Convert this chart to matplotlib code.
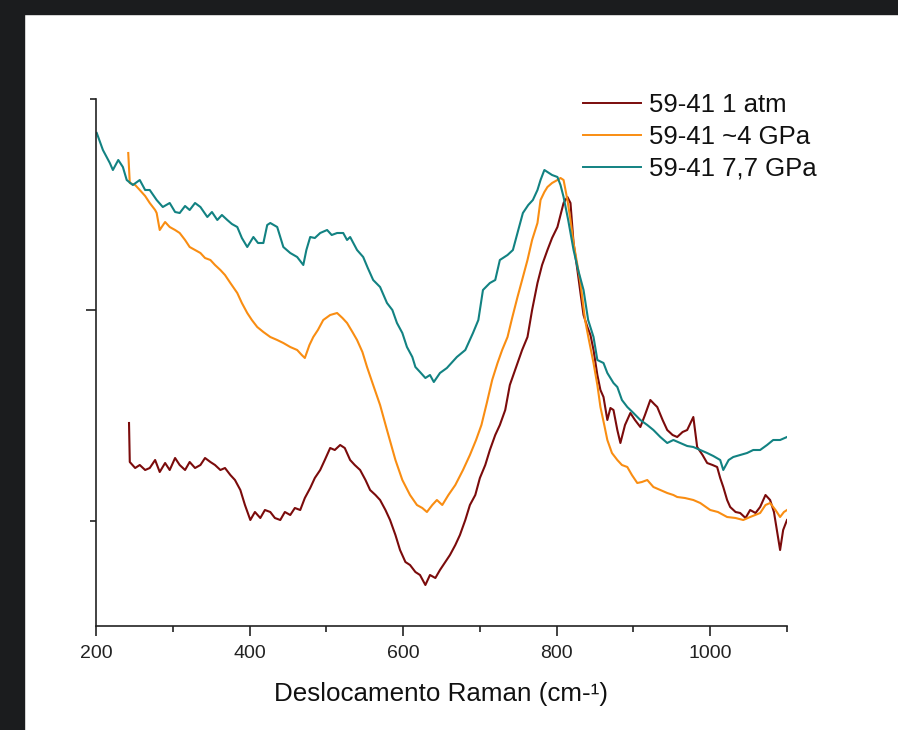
import matplotlib
matplotlib.use("Agg")
import matplotlib.pyplot as plt
from matplotlib.patches import Rectangle
from matplotlib.ticker import FixedLocator

# ---- data (Raman shift in cm-1, intensity in arbitrary units) ----
x_77 = [201, 209, 218, 222, 229, 235, 240, 248, 257, 264, 270, 279, 287, 296, 303, 309, 316, 322, 329, 336,
        345, 351, 358, 364, 371, 377, 384, 390, 397, 405, 411, 418, 423, 427, 436, 444, 453, 462, 470, 474,
        479, 485, 492, 501, 507, 514, 522, 527, 531, 540, 548, 554, 561, 570, 579, 586, 592, 599, 605, 612,
        616, 622, 629, 635, 640, 648, 657, 670, 681, 691, 698, 704, 713, 720, 726, 736, 743, 750, 756, 763,
        769, 775, 779, 784, 788, 794, 801, 805, 809, 815, 822, 828, 835, 841, 848, 853, 861, 866, 874, 879,
        885, 892, 900, 909, 918, 926, 935, 944, 952, 961, 970, 978, 987, 996, 1004, 1013, 1017, 1024, 1030, 1039,
        1048, 1056, 1065, 1074, 1082, 1091, 1100]
y_77 = [493, 476, 463, 456, 466, 459, 446, 441, 446, 436, 436, 426, 419, 423, 414, 413, 420, 416, 423, 419,
        409, 414, 406, 411, 406, 402, 399, 388, 379, 389, 383, 383, 401, 403, 399, 379, 373, 369, 361, 376,
        389, 388, 393, 396, 391, 393, 393, 386, 389, 376, 369, 358, 346, 339, 323, 316, 303, 293, 279, 269,
        259, 254, 248, 251, 244, 253, 258, 269, 276, 293, 306, 336, 343, 346, 366, 371, 376, 396, 413, 421,
        426, 436, 446, 456, 454, 451, 449, 441, 429, 406, 376, 356, 336, 306, 289, 266, 263, 253, 243, 239,
        226, 219, 213, 206, 201, 196, 189, 183, 186, 183, 180, 179, 176, 173, 170, 166, 156, 166, 169, 171,
        173, 176, 176, 181, 186, 186, 189]

x_4 = [242, 244, 251, 257, 264, 270, 277, 279, 283, 290, 296, 303, 309, 316, 322, 329, 336, 342, 349, 355,
       362, 368, 375, 384, 390, 397, 403, 410, 418, 427, 436, 444, 453, 462, 468, 472, 478, 483, 489, 496,
       505, 514, 521, 527, 534, 540, 547, 553, 561, 570, 579, 590, 599, 609, 618, 625, 631, 638, 644, 651,
       659, 668, 678, 687, 695, 702, 709, 716, 723, 729, 736, 742, 749, 755, 762, 768, 775, 779, 784, 788,
       794, 801, 805, 809, 814, 818, 822, 827, 831, 837, 842, 848, 853, 857, 862, 866, 872, 879, 885, 892,
       898, 905, 911, 918, 926, 935, 944, 952, 957, 967, 978, 987, 1000, 1010, 1022, 1033, 1043, 1052, 1065, 1072,
       1078, 1085, 1091, 1096, 1100]
y_4 = [473, 443, 441, 436, 430, 423, 416, 413, 396, 404, 399, 396, 393, 386, 379, 376, 373, 368, 366, 361,
       356, 351, 343, 333, 323, 313, 306, 299, 294, 289, 286, 283, 279, 276, 271, 268, 281, 289, 296, 306,
       311, 313, 308, 303, 294, 286, 274, 259, 241, 221, 196, 166, 146, 131, 121, 118, 114, 121, 126, 121,
       131, 141, 156, 171, 186, 201, 223, 246, 263, 276, 289, 308, 329, 346, 366, 386, 403, 426, 434, 439,
       443, 446, 448, 446, 426, 406, 383, 361, 343, 306, 286, 263, 241, 219, 201, 186, 173, 166, 161, 159,
       151, 143, 144, 146, 139, 136, 133, 131, 129, 128, 126, 123, 116, 114, 109, 108, 106, 109, 113, 121,
       123, 116, 109, 114, 116]

x_1 = [243, 244, 251, 257, 264, 270, 277, 283, 290, 296, 303, 309, 316, 322, 329, 336, 342, 349, 355, 362,
       368, 375, 381, 388, 394, 401, 407, 414, 420, 427, 433, 440, 446, 453, 459, 466, 472, 479, 485, 492,
       498, 505, 511, 518, 524, 531, 537, 544, 551, 557, 564, 570, 577, 583, 590, 596, 603, 609, 616, 622,
       629, 635, 642, 648, 655, 661, 668, 674, 681, 687, 694, 700, 707, 713, 720, 726, 733, 739, 749, 755,
       762, 768, 775, 781, 788, 794, 801, 805, 809, 814, 818, 822, 827, 831, 835, 840, 844, 848, 853, 857,
       861, 866, 870, 874, 879, 883, 889, 896, 902, 909, 915, 922, 927, 931, 938, 944, 951, 957, 964, 970,
       978, 983, 990, 996, 1003, 1009, 1013, 1017, 1022, 1026, 1033, 1039, 1046, 1052, 1059, 1065, 1072, 1078, 1083, 1089,
       1091, 1095, 1100]
y_1 = [203, 164, 158, 161, 156, 158, 166, 154, 163, 156, 168, 161, 156, 164, 158, 161, 168, 164, 161, 156,
       158, 151, 146, 136, 121, 106, 114, 108, 116, 114, 108, 106, 114, 111, 118, 116, 128, 138, 148, 156,
       166, 178, 176, 181, 178, 166, 161, 156, 146, 136, 131, 126, 116, 106, 91, 76, 64, 61, 54, 51,
       41, 51, 48, 56, 64, 71, 81, 91, 106, 121, 131, 148, 161, 176, 191, 201, 216, 241, 263, 276,
       289, 316, 343, 361, 376, 388, 399, 411, 423, 429, 423, 383, 356, 333, 311, 299, 291, 276, 251, 236,
       229, 206, 218, 216, 196, 183, 201, 213, 206, 199, 211, 226, 222, 219, 206, 196, 191, 189, 194, 196,
       209, 179, 171, 163, 161, 159, 148, 139, 126, 119, 114, 113, 108, 116, 113, 119, 131, 126, 114, 86,
       76, 96, 106]

labels = ["59-41 1 atm", "59-41 ~4 GPa", "59-41 7,7 GPa"]
colors = ["#7b0b0b", "#f98d12", "#128282"]
x_ticks = [200, 400, 600, 800, 1000]
x_minor = [300, 500, 700, 900, 1100]
xlabel = "Deslocamento Raman (cm-\u00b9)"

W, H = 898, 730
plt.rcParams["font.family"] = ["Liberation Sans", "DejaVu Sans"]
fig = plt.figure(figsize=(W / 100, H / 100), dpi=100, facecolor="white")

# dark screenshot frame
fig.patches.append(Rectangle((0, 1 - 14 / H), 1, 14 / H, transform=fig.transFigure,
                             color="#1b1c1e", zorder=-1))
fig.patches.append(Rectangle((0, 0), 24 / W, 1, transform=fig.transFigure,
                             color="#1b1c1e", zorder=-1))

ax = fig.add_axes([96 / W, (H - 626) / H, (787 - 96) / W, (626 - 99) / H])
for xs, ys, c, lab in zip([x_1, x_4, x_77], [y_1, y_4, y_77], colors, labels):
    ax.plot(xs, ys, color=c, lw=1.5, label=lab)

ax.set_xlim(200, 1100)
ax.set_ylim(0, 527)
for s in ["top", "right"]:
    ax.spines[s].set_visible(False)
for s in ["left", "bottom"]:
    ax.spines[s].set_linewidth(1.2)
    ax.spines[s].set_color("#222222")

ax.xaxis.set_major_locator(FixedLocator(x_ticks))
ax.xaxis.set_minor_locator(FixedLocator(x_minor))
ax.yaxis.set_major_locator(FixedLocator([316]))
ax.yaxis.set_minor_locator(FixedLocator([105, 527]))
ax.set_yticklabels([])
ax.tick_params(axis="both", which="major", direction="out", length=7, width=1.2,
               color="#222222", labelsize=14, pad=7, labelcolor="#222222")
ax.tick_params(axis="both", which="minor", direction="out", length=4, width=1.2, color="#222222")
ax.set_xlabel(xlabel, fontsize=18.7, labelpad=14, color="#111111")

leg = ax.legend(loc="upper left", bbox_to_anchor=((583 - 96) / (787 - 96), 1.011),
                frameon=False, fontsize=18.5, handlelength=2.25, handletextpad=0.3,
                labelspacing=0.3, borderaxespad=0, borderpad=0)
for line in leg.get_lines():
    line.set_linewidth(1.4)
for t in leg.get_texts():
    t.set_color("#111111")

fig.savefig("out.png", dpi=100, facecolor="white")
